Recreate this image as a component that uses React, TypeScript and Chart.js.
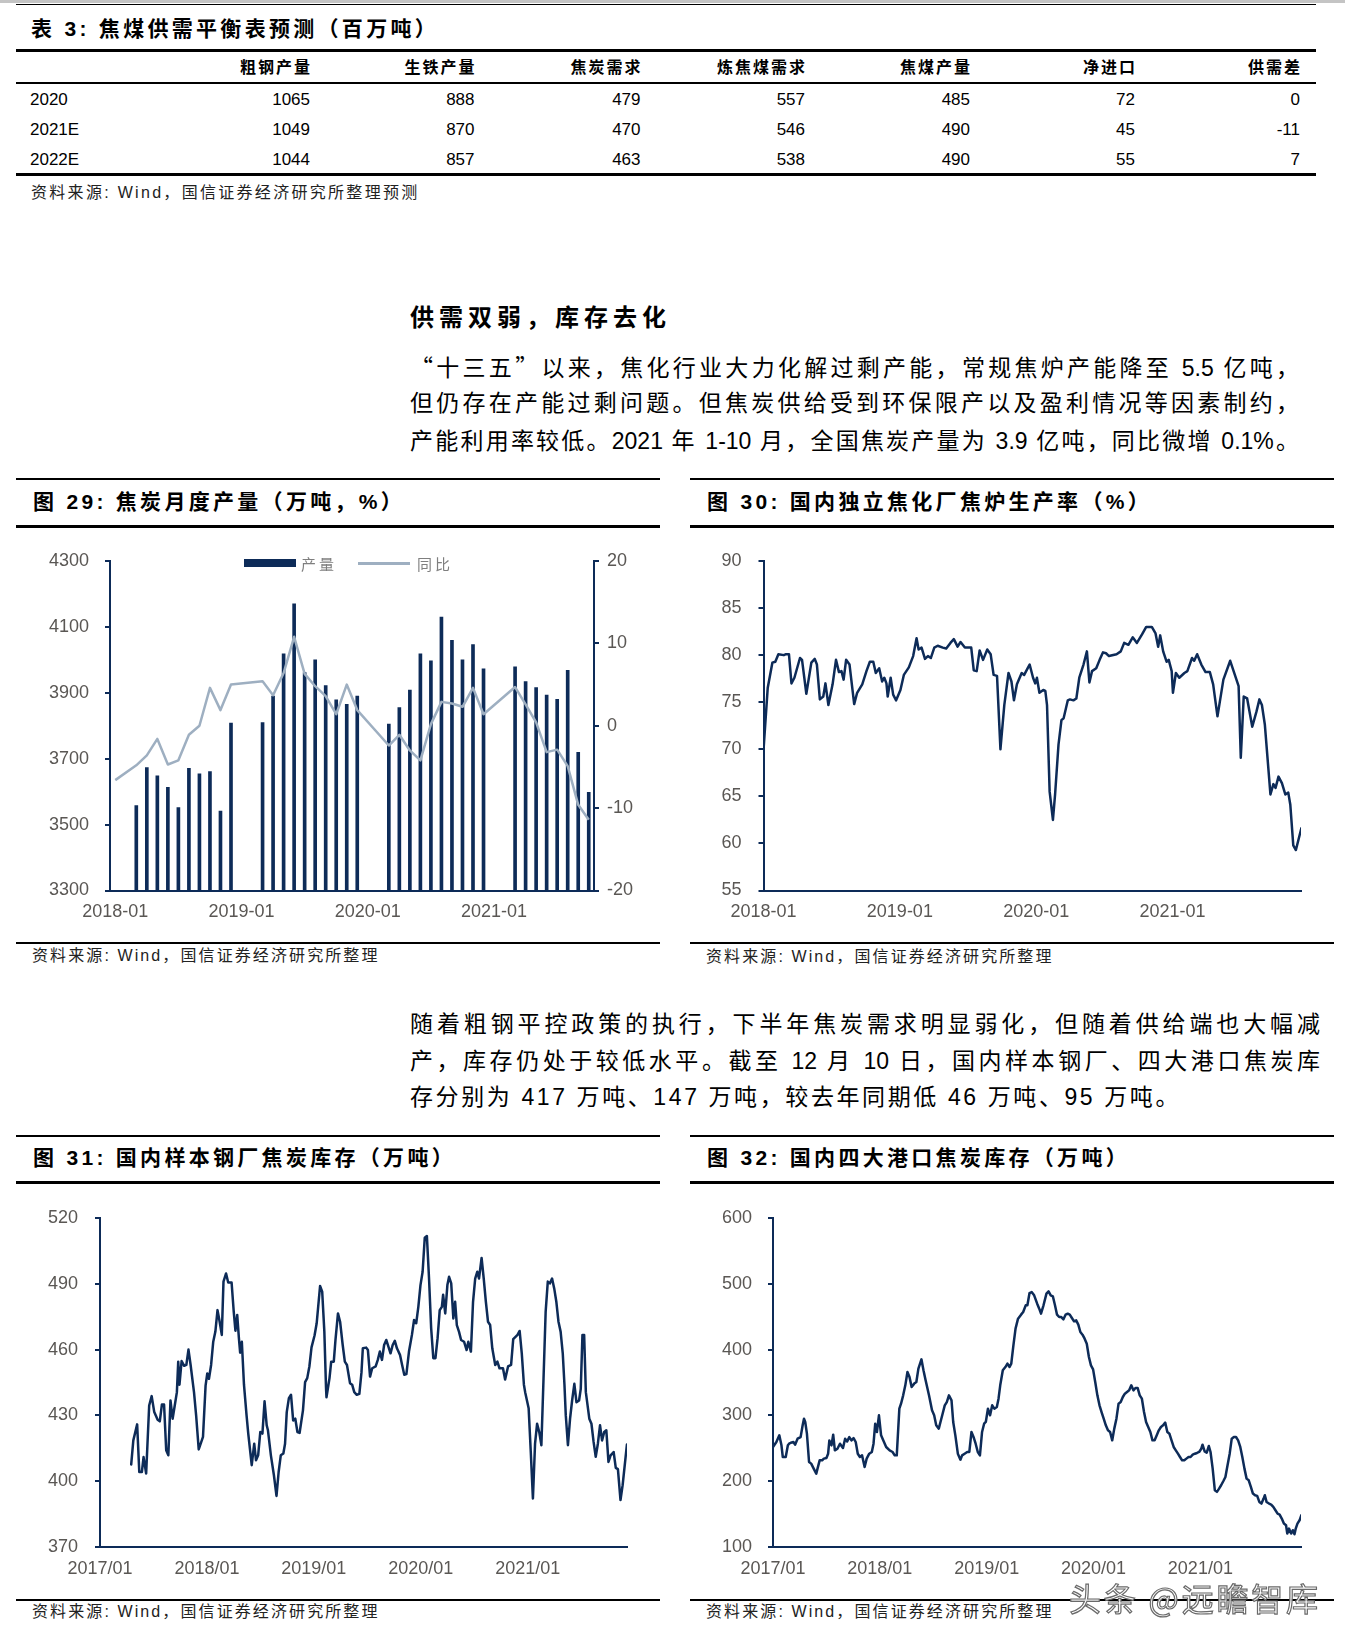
import React, { useEffect, useRef } from 'react';
import { Chart, registerables } from 'chart.js';

Chart.register(...registerables);
Chart.defaults.font.family = '"Liberation Sans", Arial, sans-serif';

const PAGE_W = 1345;
const PAGE_H = 1644;
const NAVY = '#0d2b58';
const YOY_GRAY = '#9eafc1';
const TICK_GRAY = '#5a5754';
const MIXED = '"Liberation Sans", Arial, "Noto Sans CJK SC", sans-serif';
const CJK = '"Noto Sans CJK SC", sans-serif';
const AXIS_FONT = { family: '"Liberation Sans", Arial, sans-serif', size: 18 };

// ---------------- Table 3 data ----------------
const tableHeaders = ['粗钢产量', '生铁产量', '焦炭需求', '炼焦煤需求', '焦煤产量', '净进口', '供需差'];
const tableYears = ['2020', '2021E', '2022E'];
const crudeSteelOutput = [1065, 1049, 1044];
const pigIronOutput = [888, 870, 857];
const cokeDemand = [479, 470, 463];
const cokingCoalDemand = [557, 546, 538];
const cokingCoalOutput = [485, 490, 490];
const netImports = [72, 45, 55];
const supplyDemandGap = [0, -11, 7];

// ---------------- Fig 29: monthly coke output ----------------
const fig29Months = [
  '2018-01', '2018-02', '2018-03', '2018-04', '2018-05', '2018-06', '2018-07', '2018-08', '2018-09', '2018-10', '2018-11', '2018-12',
  '2019-01', '2019-02', '2019-03', '2019-04', '2019-05', '2019-06', '2019-07', '2019-08', '2019-09', '2019-10', '2019-11', '2019-12',
  '2020-01', '2020-02', '2020-03', '2020-04', '2020-05', '2020-06', '2020-07', '2020-08', '2020-09', '2020-10', '2020-11', '2020-12',
  '2021-01', '2021-02', '2021-03', '2021-04', '2021-05', '2021-06', '2021-07', '2021-08', '2021-09', '2021-10',
];
const fig29Output = [
  null, null, 3558, 3673, 3648, 3613, 3552, 3671, 3654, 3661, 3541, 3808,
  null, null, 3810, 3890, 4018, 4170, 3961, 4000, 3922, 3879, 3865, 3890,
  null, null, 3805, 3855, 3908, 4018, 3997, 4130, 4059, 4000, 4046, 3973,
  null, null, 3979, 3934, 3916, 3893, 3880, 3968, 3719, 3598,
];
const fig29Yoy = [
  -6.6, null, -4.8, -3.6, -1.6, -4.7, -4.2, -1.1, 0.0, 4.6, 1.9, 5.0,
  null, null, 5.4, 3.7, 6.4, 10.8, 6.3, 4.8, 3.6, 1.4, 5.0, 1.9,
  null, null, -2.4, -1.1, -3.0, -4.2, 0.2, 2.9, 2.7, 2.3, 4.6, 1.4,
  null, null, 4.7, 2.6, 0.4, -3.2, -2.9, -4.9, -9.6, -11.4,
];
const fig29OutputTicks = [3300, 4300, 200];
const fig29YoyTicks = [-20, 20, 10];

// ---------------- Fig 30: coke oven utilisation (%), months since 2018-01 ----------------
const fig30Months = [
  0, 0.37, 0.78, 1.04, 1.31, 1.79, 1.98, 2.24, 2.46, 2.72,
  3.21, 3.39, 3.77, 4.21, 4.51, 4.70, 4.96, 5.26, 5.45, 5.71,
  6.08, 6.38, 6.64, 6.86, 7.05, 7.27, 7.57, 7.98, 8.24, 8.69,
  9.06, 9.36, 9.66, 9.88, 10.18, 10.44, 10.63, 10.82, 10.93, 11.19,
  11.41, 11.67, 12.05, 12.35, 12.79, 13.17, 13.47, 13.65, 13.91, 14.21,
  14.47, 14.73, 15.03, 15.33, 15.78, 16.08, 16.45, 16.75, 17.08, 17.34,
  17.72, 18.28, 18.5, 18.76, 19.02, 19.32, 19.69, 19.99, 20.25, 20.55,
  20.85, 21.19, 21.56, 21.82, 22.04, 22.3, 22.72, 22.94, 23.24, 23.42,
  23.72, 23.91, 24.06, 24.28, 24.62, 24.8, 24.95, 25.18, 25.47, 25.66,
  25.96, 26.22, 26.41, 26.78, 26.97, 27.27, 27.53, 27.79, 28.16, 28.46,
  28.68, 28.91, 29.28, 29.58, 29.88, 30.14, 30.4, 31.07, 31.44, 31.74,
  32.11, 32.49, 32.86, 33.31, 33.68, 34.17, 34.5, 34.73, 34.91, 35.17,
  35.47, 35.66, 35.92, 36.03, 36.29, 36.59, 37.04, 37.3, 37.71, 37.9,
  38.16, 38.53, 38.9, 39.28, 39.57, 39.95, 40.47, 41.07, 41.51, 41.81,
  42.0, 42.26, 42.56, 43.01, 43.38, 43.64, 43.86, 44.12, 44.61, 44.87,
  45.06, 45.32, 45.62, 45.92, 46.18, 46.36, 46.62, 46.85, 47.33,
];
const fig30Rates = [
  69.9, 76.5, 79.2, 79.3, 80.1, 80.0, 80.1, 80.1, 77.0, 77.6,
  79.7, 79.5, 75.9, 79.2, 79.6, 79.0, 75.3, 75.6, 77.0, 74.7,
  76.9, 79.5, 78.2, 78.3, 77.4, 79.5, 79.0, 74.8, 76.0, 76.9,
  78.3, 79.3, 79.3, 78.1, 78.6, 77.2, 77.6, 77.0, 75.6, 77.6,
  75.8, 75.2, 76.3, 77.9, 78.7, 79.9, 81.8, 80.6, 80.8, 79.6,
  79.9, 79.7, 80.8, 81.0, 80.8, 80.7, 81.3, 81.7, 80.9, 81.4,
  80.8, 80.8, 78.4, 78.3, 80.5, 79.5, 80.6, 80.1, 77.9, 77.8,
  70.0, 74.7, 78.1, 77.2, 75.2, 76.9, 78.1, 77.9, 78.6, 79.0,
  77.6, 77.0, 77.6, 76.0, 76.3, 76.2, 74.7, 65.5, 62.5, 65.2,
  70.5, 73.1, 73.3, 75.2, 75.3, 75.2, 75.4, 77.6, 79.0, 80.4,
  77.1, 78.3, 78.6, 79.5, 80.3, 80.2, 79.9, 80.1, 80.4, 81.3,
  81.1, 81.9, 81.3, 82.2, 83.0, 83.0, 82.3, 80.9, 82.1, 80.4,
  79.3, 79.5, 78.3, 76.0, 78.1, 77.6, 78.1, 78.3, 79.7, 79.4,
  80.1, 79.0, 78.2, 78.2, 76.9, 73.5, 77.4, 79.4, 77.8, 76.7,
  69.1, 75.6, 75.4, 72.4, 74.0, 75.3, 74.7, 72.6, 65.2, 66.3,
  65.9, 67.1, 66.4, 65.2, 65.4, 64.1, 59.8, 59.3, 61.6,
];
const fig30TickMonths = [0, 12, 24, 36];
const fig30TickLabels = ['2018-01', '2019-01', '2020-01', '2021-01'];

// ---------------- Fig 31: steel mill coke inventory, months since 2017-01 ----------------
const fig31Months = [
  3.50, 3.74, 4.17, 4.41, 4.70, 4.89, 5.18, 5.52, 5.80, 6.09,
  6.47, 6.71, 6.95, 7.19, 7.43, 7.67, 7.91, 8.15, 8.39, 8.63,
  8.78, 8.92, 9.16, 9.45, 9.69, 9.93, 10.17, 10.55, 10.79, 11.08,
  11.37, 11.56, 11.85, 12.04, 12.23, 12.47, 12.71, 12.95, 13.19, 13.43,
  13.67, 13.86, 14.15, 14.39, 14.77, 15.01, 15.20, 15.40, 15.59, 15.73,
  15.92, 16.16, 16.45, 16.64, 17.03, 17.31, 17.51, 17.75, 17.99, 18.23,
  18.47, 18.71, 18.85, 19.18, 19.52, 19.81, 20.05, 20.29, 20.58, 20.77,
  20.96, 21.20, 21.44, 21.68, 21.92, 22.16, 22.40, 22.78, 23.02, 23.26,
  23.50, 23.74, 24.08, 24.32, 24.70, 24.94, 25.18, 25.37, 25.42, 25.76,
  25.95, 26.24, 26.43, 26.71, 26.95, 27.24, 27.48, 27.72, 28.06, 28.30,
  28.54, 28.82, 29.11, 29.35, 29.50, 29.88, 30.07, 30.31, 30.55, 30.94,
  31.18, 31.41, 31.65, 31.89, 32.13, 32.37, 32.61, 32.85, 33.09, 33.33,
  33.67, 33.91, 34.15, 34.39, 34.68, 35.01, 35.25, 35.49, 35.73, 35.97,
  36.21, 36.45, 36.69, 36.93, 37.17, 37.41, 37.65, 37.89, 38.13, 38.37,
  38.51, 38.75, 38.99, 39.18, 39.42, 39.66, 39.86, 40.05, 40.29, 40.53,
  40.86, 41.15, 41.34, 41.63, 41.87, 42.11, 42.35, 42.54, 42.83, 43.07,
  43.31, 43.55, 43.79, 44.03, 44.36, 44.60, 44.84, 45.23, 45.47, 45.80,
  46.14, 46.38, 46.86, 47.10, 47.34, 47.58, 47.72, 48.11, 48.35, 48.59,
  48.83, 49.06, 49.30, 49.54, 49.78, 50.02, 50.26, 50.50, 50.74, 50.98,
  51.22, 51.46, 51.70, 51.94, 52.13, 52.28, 52.52, 52.76, 52.99, 53.24,
  53.48, 53.77, 53.96, 54.15, 54.34, 54.53, 54.92, 55.16, 55.40, 55.64,
  55.88, 56.12, 56.35, 56.59, 56.83, 57.07, 57.31, 57.65, 57.89, 58.13,
  58.42, 58.66, 59.14,
];
const fig31Stocks = [
  407.6, 418.6, 425.9, 404.2, 404.2, 411.0, 403.5, 434.5, 438.8, 431.5,
  428.0, 427.3, 435.0, 435.0, 414.1, 411.8, 436.8, 428.5, 434.5, 440.6,
  454.5, 444.0, 454.8, 452.6, 453.0, 460.0, 453.0, 440.6, 430.0, 414.5,
  417.9, 420.2, 443.6, 449.1, 446.7, 453.0, 463.6, 468.2, 478.0, 472.7,
  466.7, 491.0, 494.7, 490.6, 490.6, 477.3, 468.6, 475.8, 465.2, 458.6,
  463.6, 444.0, 430.0, 421.7, 407.3, 417.1, 409.5, 411.8, 422.4, 421.7,
  436.4, 425.5, 423.2, 411.8, 402.7, 393.3, 404.2, 411.8, 412.6, 417.1,
  431.5, 437.9, 439.4, 427.7, 428.5, 422.4, 422.0, 432.3, 445.2, 447.0,
  452.3, 461.0, 466.4, 472.0, 489.0, 486.4, 468.2, 442.4, 438.3, 447.0,
  454.5, 454.5, 464.4, 476.5, 472.7, 462.1, 454.5, 453.0, 444.7, 444.0,
  440.6, 439.4, 439.8, 449.7, 460.6, 460.9, 459.8, 447.7, 451.5, 452.3,
  455.3, 459.1, 455.3, 462.1, 464.4, 461.4, 458.3, 462.1, 464.0, 460.6,
  457.6, 453.0, 448.5, 448.8, 459.1, 466.7, 473.5, 472.0, 479.5, 489.4,
  495.5, 511.0, 511.8, 492.4, 469.7, 456.1, 456.1, 465.2, 478.0, 479.5,
  485.0, 476.5, 489.4, 493.2, 490.2, 474.2, 481.8, 471.2, 468.2, 464.4,
  463.6, 459.8, 463.6, 459.1, 481.8, 492.4, 495.5, 492.4, 501.8, 492.4,
  481.8, 472.7, 471.2, 460.6, 453.0, 454.5, 451.5, 451.5, 446.4, 452.3,
  453.0, 464.8, 466.7, 468.5, 458.3, 444.0, 440.6, 433.3, 413.3, 392.1,
  417.1, 426.2, 422.4, 416.4, 446.7, 477.3, 491.0, 490.2, 492.4, 487.9,
  481.8, 472.7, 468.2, 458.3, 444.0, 430.0, 416.4, 428.5, 436.8, 444.4,
  436.0, 436.8, 442.1, 466.7, 466.7, 440.6, 428.5, 426.2, 417.9, 411.1,
  417.1, 425.5, 418.6, 422.4, 423.2, 408.8, 411.8, 413.3, 406.1, 405.5,
  391.4, 398.2, 416.7,
];

// ---------------- Fig 32: four major ports coke inventory, months since 2017-01 ----------------
const fig32Months = [
  0, 0.38, 0.71, 0.95, 1.10, 1.43, 1.67, 1.81, 2.0, 2.29,
  2.48, 2.76, 3.10, 3.33, 3.48, 3.62, 3.81, 4.05, 4.29, 4.57,
  4.86, 5.0, 5.24, 5.52, 5.71, 6.0, 6.19, 6.33, 6.57, 6.76,
  6.95, 7.24, 7.52, 7.86, 8.10, 8.33, 8.57, 8.81, 9.05, 9.29,
  9.52, 9.76, 10.0, 10.29, 10.52, 10.81, 11.10, 11.29, 11.48, 11.67,
  11.90, 12.14, 12.38, 12.71, 13.10, 13.43, 13.67, 13.90, 14.19, 14.38,
  14.62, 14.86, 15.10, 15.33, 15.57, 15.86, 16.10, 16.33, 16.67, 16.90,
  17.14, 17.52, 17.86, 18.10, 18.33, 18.62, 18.81, 19.05, 19.29, 19.52,
  19.76, 20.05, 20.24, 20.48, 20.76, 21.05, 21.24, 21.52, 21.81, 22.05,
  22.29, 22.52, 22.76, 23.0, 23.24, 23.48, 23.71, 23.90, 24.14, 24.38,
  24.62, 24.86, 25.14, 25.33, 25.52, 25.81, 26.10, 26.33, 26.57, 26.76,
  27.0, 27.24, 27.52, 27.86, 28.10, 28.38, 28.57, 28.81, 29.05, 29.33,
  29.67, 29.90, 30.10, 30.38, 30.71, 30.95, 31.19, 31.43, 31.67, 31.90,
  32.14, 32.38, 32.62, 32.86, 33.10, 33.33, 33.57, 33.81, 34.05, 34.29,
  34.52, 34.76, 35.0, 35.24, 35.48, 35.71, 35.95, 36.19, 36.43, 36.67,
  36.90, 37.14, 37.38, 37.62, 37.86, 38.10, 38.33, 38.57, 38.81, 39.05,
  39.29, 39.52, 39.76, 40.0, 40.24, 40.48, 40.71, 40.95, 41.19, 41.43,
  41.67, 41.90, 42.14, 42.38, 42.62, 42.86, 43.10, 43.33, 43.57, 43.81,
  44.05, 44.29, 44.52, 44.76, 45.0, 45.24, 45.48, 45.71, 45.95, 46.19,
  46.43, 46.67, 46.90, 47.14, 47.38, 47.62, 47.86, 48.10, 48.24, 48.48,
  48.71, 48.95, 49.14, 49.38, 49.62, 49.86, 50.10, 50.33, 50.57, 50.81,
  51.05, 51.29, 51.52, 51.76, 52.0, 52.24, 52.48, 52.71, 52.95, 53.19,
  53.43, 53.67, 53.90, 54.14, 54.38, 54.62, 54.86, 55.10, 55.24, 55.43,
  55.71, 55.95, 56.19, 56.43, 56.67, 56.90, 57.14, 57.38, 57.62, 57.76,
  57.95, 58.19, 58.38, 58.57, 58.71, 58.90, 59.14, 59.33,
];
const fig32Stocks = [
  252, 259.6, 269.7, 254.5, 236.8, 236.8, 254.5, 257, 258.5, 259.6,
  255.5, 264.6, 267, 284.9, 295, 290, 272.2, 229.2, 226.7, 219.1,
  211.5, 219.1, 231.7, 231.7, 234.3, 235.3, 241.8, 262, 254.5, 270.7,
  246.9, 249.4, 257, 250.4, 264.6, 260.5, 267, 262, 265.5, 259.6,
  241.8, 236.8, 239.3, 221.6, 234.3, 241.8, 244.4, 257, 287.4, 274.8,
  300.1, 269.7, 262.1, 252, 246.9, 244.4, 239.3, 239.3, 310.2, 317.8,
  330.5, 345.7, 366, 358.4, 343.2, 348.3, 350.7, 371, 385.2, 368.5,
  353.3, 330.5, 307.7, 300.1, 284.9, 279.9, 290, 302.6, 315.3, 320.3,
  330.5, 322.9, 290, 269.7, 241.8, 232.7, 239.3, 241.8, 244.4, 244.4,
  274.8, 267.2, 257, 244.4, 239.3, 274.8, 287.4, 290, 310.2, 300.1,
  315.3, 310.2, 312.8, 325.4, 345.7, 368.5, 373.5, 378.6, 373.5, 378.6,
  406.5, 431.8, 447, 453.1, 457.1, 467.3, 467.3, 486, 487.5, 482.5,
  469.8, 462.2, 454.6, 467.3, 485, 488.5, 482.5, 481, 467.3, 453.1,
  449.5, 449.5, 446, 453.1, 454.6, 453.1, 448, 443, 444.5, 438,
  426.7, 422.7, 416.6, 409, 388.7, 376, 370, 350.7, 330.5, 315.3,
  305.1, 295, 284.9, 277.3, 274.8, 262.1, 279.9, 295, 317.8, 320.3,
  328, 333, 335.6, 338.1, 345.7, 338.1, 341.7, 341.7, 330.5, 325.4,
  305.1, 290, 282.4, 274.8, 262.1, 262.1, 269.7, 277.3, 282.4, 284.9,
  289, 274.8, 272.2, 262.1, 252, 246.9, 241.8, 236.8, 231.7, 231.7,
  234.3, 236.8, 236.8, 240.3, 241.8, 242.9, 244.4, 249.4, 255.5, 245.4,
  243.4, 253.5, 244.4, 219.1, 186.3, 183.8, 188.8, 193.8, 199.9, 206.4,
  224.1, 241.8, 264.6, 267.1, 267.1, 262.1, 252, 236.8, 219.1, 203.9,
  201.4, 191.3, 181.2, 178.7, 177.7, 168.5, 166, 173.6, 178.7, 168.5,
  166, 164.5, 160.9, 155.9, 150.8, 149.3, 143.2, 135.6, 133.1, 120.4,
  128, 120.4, 125.5, 119.4, 128, 135.6, 140.6, 148.2,
];
const inventoryTickMonths = [0, 12, 24, 36, 48];
const inventoryTickLabels = ['2017/01', '2018/01', '2019/01', '2020/01', '2021/01'];

// ---------------- helpers ----------------
function Rule({ x, y, w, h, color = '#000' }: any) {
  return <div style={{ position: 'absolute', left: x, top: y, width: w, height: h, background: color }} />;
}

function Txt({ x, xr, cy, size, bold, ls = 0, color = '#000', family = MIXED, children, extra }: any) {
  const lh = Math.round(size * 1.5);
  const style: any = {
    position: 'absolute', top: cy - lh / 2, height: lh, lineHeight: `${lh}px`, fontSize: size,
    fontWeight: bold ? 700 : 400, letterSpacing: ls, color, fontFamily: family, whiteSpace: 'nowrap',
    ...(extra || {}),
  };
  if (xr !== undefined) style.right = PAGE_W - xr - ls;
  else style.left = x;
  return <div style={style}>{children}</div>;
}

function JLine({ x, w, cy, size, ls = 0, justify = true, children }: any) {
  const lh = Math.round(size * 1.5);
  return (
    <div
      style={{
        position: 'absolute', left: x, width: w, top: cy - lh / 2, height: lh, lineHeight: `${lh}px`,
        fontSize: size, fontFamily: MIXED, color: '#000', letterSpacing: ls,
        textAlign: justify ? 'justify' : 'left', textAlignLast: justify ? 'justify' : 'auto',
      } as any}
    >
      {children}
    </div>
  );
}

const Q = ({ c }: any) => <span style={{ fontFamily: CJK }}>{c}</span>;

function yAxis(min: number, max: number, step: number, pad: number, width: number, position = 'left') {
  return {
    position,
    min,
    max,
    ticks: { stepSize: step, color: TICK_GRAY, font: AXIS_FONT, padding: pad, callback: (v: any) => String(v) },
    grid: { display: true, drawOnChartArea: false, drawTicks: true, tickLength: 5, color: NAVY, lineWidth: 2 },
    border: { display: true, color: NAVY, width: 2 },
    afterFit: (s: any) => { s.width = width; },
  };
}

// canvas top is 30px above the plot area; plot bottom sits xHeight above the canvas bottom
const PAD_TOP = 30;

function LineChart({ left, areaTop, width, height, yWidth, xHeight, padRight, months, values, yMin, yMax, yStep, yPad, xMax, tickMonths, tickLabels, xPad }: any) {
  const ref = useRef<HTMLCanvasElement>(null);
  useEffect(() => {
    const points = months.map((m: number, i: number) => ({ x: m, y: values[i] }));
    const chart = new Chart(ref.current as HTMLCanvasElement, {
      type: 'line',
      data: {
        datasets: [{
          data: points, borderColor: NAVY, borderWidth: 2.5, pointRadius: 0, tension: 0, fill: false,
          borderJoinStyle: 'round', borderCapStyle: 'round',
        }],
      },
      options: {
        animation: false, responsive: false, maintainAspectRatio: false,
        layout: { padding: { top: PAD_TOP, right: padRight, left: 0, bottom: 0 } },
        plugins: { legend: { display: false }, tooltip: { enabled: false } },
        scales: {
          x: {
            type: 'linear', min: 0, max: xMax,
            grid: { display: false, drawTicks: false },
            border: { display: true, color: NAVY, width: 2 },
            afterBuildTicks: (axis: any) => { axis.ticks = tickMonths.map((v: number) => ({ value: v })); },
            ticks: {
              autoSkip: false, maxRotation: 0, color: TICK_GRAY, font: AXIS_FONT, padding: xPad,
              callback: (v: any) => { const i = tickMonths.indexOf(v); return i >= 0 ? tickLabels[i] : ''; },
            },
            afterFit: (s: any) => { s.height = xHeight; },
          },
          y: yAxis(yMin, yMax, yStep, yPad, yWidth),
        },
      } as any,
    });
    return () => chart.destroy();
  }, []);
  const top = areaTop - PAD_TOP;
  return <canvas ref={ref} width={width} height={height} style={{ position: 'absolute', left, top, width, height }} />;
}

function OutputChart() {
  const ref = useRef<HTMLCanvasElement>(null);
  useEffect(() => {
    const chart = new Chart(ref.current as HTMLCanvasElement, {
      type: 'bar',
      data: {
        labels: fig29Months,
        datasets: [
          { type: 'bar', label: '产量', data: fig29Output, backgroundColor: NAVY, barThickness: 3, yAxisID: 'y', order: 2 },
          {
            type: 'line', label: '同比', data: fig29Yoy, borderColor: YOY_GRAY, borderWidth: 2.5, pointRadius: 0,
            spanGaps: true, tension: 0, yAxisID: 'y1', order: 1, borderJoinStyle: 'round',
          },
        ],
      },
      options: {
        animation: false, responsive: false, maintainAspectRatio: false,
        layout: { padding: { top: PAD_TOP, right: 0, left: 0, bottom: 0 } },
        plugins: { legend: { display: false }, tooltip: { enabled: false } },
        scales: {
          x: {
            grid: { display: false, drawTicks: false },
            border: { display: true, color: NAVY, width: 2 },
            ticks: {
              autoSkip: false, maxRotation: 0, color: TICK_GRAY, font: AXIS_FONT, padding: 10.7,
              callback: (_v: any, i: number) => (fig29Months[i].endsWith('-01') ? fig29Months[i] : ''),
            },
            afterFit: (s: any) => { s.height = 40.5; },
          },
          y: yAxis(fig29OutputTicks[0], fig29OutputTicks[1], fig29OutputTicks[2], 16, 94, 'left'),
          y1: yAxis(fig29YoyTicks[0], fig29YoyTicks[1], fig29YoyTicks[2], 8, 66, 'right'),
        },
      } as any,
    });
    return () => chart.destroy();
  }, []);
  return <canvas ref={ref} width={644} height={400} style={{ position: 'absolute', left: 16, top: 531, width: 644, height: 400 }} />;
}

function ChartFrame({ x, w, topY, title, underY, bottomY, sourceY }: any) {
  return (
    <>
      <Rule x={x} y={topY - 1} w={w} h={2} />
      <Txt x={x + 17} cy={(topY + underY) / 2 - 1} size={21} bold ls={3.3}>{title}</Txt>
      <Rule x={x} y={underY - 1.5} w={w} h={3} />
      <Rule x={x} y={bottomY - 1} w={w} h={2} />
      <Txt x={x + 16} cy={sourceY} size={16} ls={2.1} color="#222">资料来源: Wind，国信证券经济研究所整理</Txt>
    </>
  );
}

const colRight = [310, 474.5, 640.5, 805, 970, 1135, 1300];

export default function App() {
  const tableRows = tableYears.map((yr, i) => [
    crudeSteelOutput[i], pigIronOutput[i], cokeDemand[i], cokingCoalDemand[i], cokingCoalOutput[i], netImports[i], supplyDemandGap[i],
  ]);
  const rowY = [100, 130, 160];
  return (
    <div style={{ position: 'absolute', left: 0, top: 0, width: PAGE_W, height: PAGE_H, background: '#fff', overflow: 'hidden', fontFamily: MIXED }}>
      {/* ---------- Table 3 ---------- */}
      <Rule x={0} y={0} w={PAGE_W} h={3} color="#c4c4c4" />
      <Rule x={16} y={4} w={1300} h={1} color="#000" />
      <Txt x={31} cy={29} size={21} bold ls={3.3}>表 3:  焦煤供需平衡表预测（百万吨）</Txt>
      <Rule x={16} y={49} w={1300} h={3} />
      {tableHeaders.map((h, j) => (
        <Txt key={h} xr={colRight[j]} cy={68} size={16} bold ls={2}>{h}</Txt>
      ))}
      <Rule x={16} y={82} w={1300} h={2} />
      {tableYears.map((yr, i) => (
        <React.Fragment key={yr}>
          <Txt x={30} cy={rowY[i]} size={17}>{yr}</Txt>
          {tableRows[i].map((v, j) => (
            <Txt key={j} xr={colRight[j]} cy={rowY[i]} size={17}>{String(v)}</Txt>
          ))}
        </React.Fragment>
      ))}
      <Rule x={16} y={172.5} w={1300} h={3} />
      <Txt x={31} cy={193} size={16} ls={2.3} color="#222">资料来源: Wind，国信证券经济研究所整理预测</Txt>

      {/* ---------- Section text 1 ---------- */}
      <Txt x={410} cy={318} size={24} bold ls={5}>供需双弱，库存去化</Txt>
      <JLine x={410} w={889} cy={366} size={23}>
        <Q c="“" />十三五<Q c="”" />以来，焦化行业大力化解过剩产能，常规焦炉产能降至 5.5 亿吨，
      </JLine>
      <JLine x={410} w={889} cy={403.5} size={23}>但仍存在产能过剩问题。但焦炭供给受到环保限产以及盈利情况等因素制约，</JLine>
      <JLine x={410} w={889} cy={441} size={23}>产能利用率较低。2021 年 1-10 月，全国焦炭产量为 3.9 亿吨，同比微增 0.1%。</JLine>

      {/* ---------- Fig 29 ---------- */}
      <ChartFrame x={16} w={644} topY={479} underY={526} bottomY={943} sourceY={956}
        title="图 29:  焦炭月度产量（万吨，%）" />
      <OutputChart />
      <Rule x={244} y={559} w={52} h={8} color={NAVY} />
      <Txt x={301} cy={564} size={15} ls={3} color="#7f7f7f">产量</Txt>
      <Rule x={358} y={562} w={52} h={2.5} color={YOY_GRAY} />
      <Txt x={417} cy={564} size={15} ls={3} color="#7f7f7f">同比</Txt>

      {/* ---------- Fig 30 ---------- */}
      <ChartFrame x={690} w={644} topY={479} underY={526} bottomY={943} sourceY={957}
        title="图 30:  国内独立焦化厂焦炉生产率（%）" />
      <LineChart left={690} areaTop={561} width={644} height={400} yWidth={73.5} xHeight={40.5} padRight={33}
        months={fig30Months} values={fig30Rates} yMin={55} yMax={90} yStep={5} yPad={17} xMax={47.3}
        tickMonths={fig30TickMonths} tickLabels={fig30TickLabels} xPad={10.5} />

      {/* ---------- Section text 2 ---------- */}
      <JLine x={410} w={910} cy={1024} size={23}>随着粗钢平控政策的执行，下半年焦炭需求明显弱化，但随着供给端也大幅减</JLine>
      <JLine x={410} w={910} cy={1061} size={23}>产，库存仍处于较低水平。截至 12 月 10 日，国内样本钢厂、四大港口焦炭库</JLine>
      <JLine x={410} w={910} cy={1097} size={23} ls={2.6} justify={false}>存分别为 417 万吨、147 万吨，较去年同期低 46 万吨、95 万吨。</JLine>

      {/* ---------- Fig 31 ---------- */}
      <ChartFrame x={16} w={644} topY={1136} underY={1182} bottomY={1600} sourceY={1612}
        title="图 31:  国内样本钢厂焦炭库存（万吨）" />
      <LineChart left={16} areaTop={1218} width={644} height={400} yWidth={84} xHeight={41} padRight={33}
        months={fig31Months} values={fig31Stocks} yMin={370} yMax={520} yStep={30} yPad={17} xMax={59.15}
        tickMonths={inventoryTickMonths} tickLabels={inventoryTickLabels} xPad={11.2} />

      {/* ---------- Fig 32 ---------- */}
      <ChartFrame x={690} w={644} topY={1136} underY={1182} bottomY={1600} sourceY={1612}
        title="图 32:  国内四大港口焦炭库存（万吨）" />
      <LineChart left={690} areaTop={1218} width={644} height={400} yWidth={83} xHeight={41} padRight={33}
        months={fig32Months} values={fig32Stocks} yMin={100} yMax={600} yStep={100} yPad={16} xMax={59.3}
        tickMonths={inventoryTickMonths} tickLabels={inventoryTickLabels} xPad={11.2} />

      {/* watermark */}
      <Txt x={1069} cy={1597} size={32} ls={2.8} color="rgba(255,255,255,0.92)" family={CJK}
        extra={{ WebkitTextStroke: '1.2px #6a6a6a' }}>头条 @远瞻智库</Txt>
    </div>
  );
}
